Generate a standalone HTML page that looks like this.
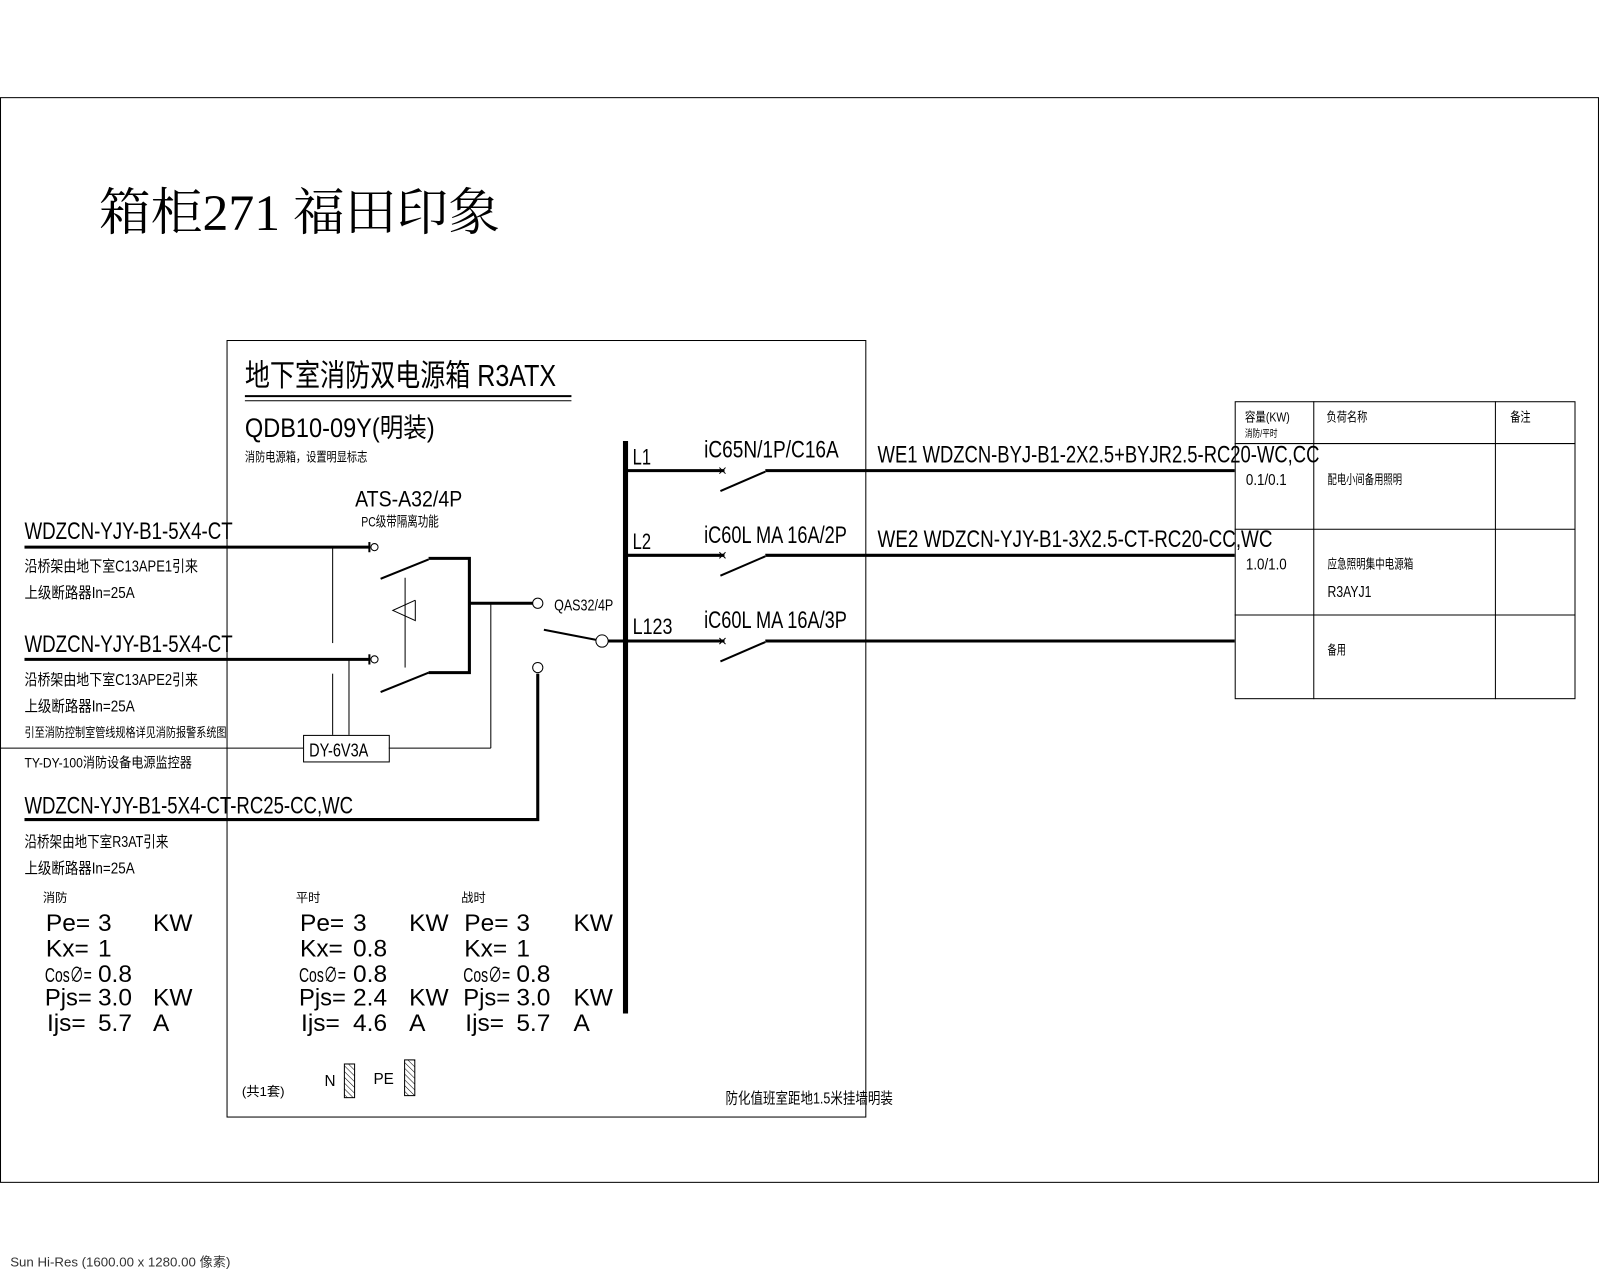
<!DOCTYPE html>
<html><head><meta charset="utf-8"><style>
html,body{margin:0;padding:0;background:#fff;}
svg{display:block;}
text{font-family:"Liberation Sans","Noto Sans CJK SC",sans-serif;fill:#000;}
text.s{font-family:"Liberation Serif","Noto Serif CJK SC",serif;}
</style></head><body>
<svg width="1600" height="1280" viewBox="0 0 1568 1254" xmlns="http://www.w3.org/2000/svg">
<defs>
<pattern id="h" width="4" height="4" patternUnits="userSpaceOnUse" patternTransform="rotate(-45)">
<line x1="0" y1="0" x2="0" y2="4" stroke="#000" stroke-width="1"/></pattern>
</defs>
<rect x="0" y="0" width="1568" height="1254" fill="#fff"/>
<rect x="0.5" y="95.5" width="1566" height="1063" fill="none" stroke="#000" stroke-width="1"/>
<text class="s" x="97" y="225" font-size="50" textLength="393" lengthAdjust="spacingAndGlyphs">箱柜271 福田印象</text>

<rect x="222.5" y="333.5" width="626" height="761" fill="none" stroke="#000" stroke-width="1"/>
<text x="240" y="378" font-size="30" textLength="305" lengthAdjust="spacingAndGlyphs">地下室消防双电源箱  R3ATX</text>
<line x1="240" y1="388" x2="560" y2="388" stroke="#000" stroke-width="2"/>
<line x1="240" y1="392.5" x2="560" y2="392.5" stroke="#000" stroke-width="1"/>
<text x="240" y="428" font-size="26" textLength="186" lengthAdjust="spacingAndGlyphs">QDB10-09Y(明装)</text>
<text x="240" y="452" font-size="13" textLength="120" lengthAdjust="spacingAndGlyphs">消防电源箱，设置明显标志</text>

<text x="348" y="496" font-size="22" textLength="105" lengthAdjust="spacingAndGlyphs">ATS-A32/4P</text>
<text x="354" y="516" font-size="14" textLength="76" lengthAdjust="spacingAndGlyphs">PC级带隔离功能</text>

<text x="24" y="528" font-size="24" textLength="204" lengthAdjust="spacingAndGlyphs">WDZCN-YJY-B1-5X4-CT</text>
<line x1="24" y1="536" x2="362" y2="536" stroke="#000" stroke-width="3"/>
<line x1="362" y1="531" x2="362" y2="541" stroke="#000" stroke-width="2"/>
<circle cx="367" cy="536" r="3.5" fill="#fff" stroke="#000"/>
<text x="24" y="560" font-size="15" textLength="170" lengthAdjust="spacingAndGlyphs">沿桥架由地下室C13APE1引来</text>
<text x="24" y="586" font-size="15" textLength="108" lengthAdjust="spacingAndGlyphs">上级断路器In=25A</text>

<text x="24" y="639" font-size="24" textLength="204" lengthAdjust="spacingAndGlyphs">WDZCN-YJY-B1-5X4-CT</text>
<line x1="24" y1="646" x2="362" y2="646" stroke="#000" stroke-width="3"/>
<line x1="362" y1="641" x2="362" y2="651" stroke="#000" stroke-width="2"/>
<circle cx="367" cy="646" r="3.5" fill="#fff" stroke="#000"/>
<text x="24" y="671" font-size="15" textLength="170" lengthAdjust="spacingAndGlyphs">沿桥架由地下室C13APE2引来</text>
<text x="24" y="697" font-size="15" textLength="108" lengthAdjust="spacingAndGlyphs">上级断路器In=25A</text>
<text x="24" y="722" font-size="13" textLength="198" lengthAdjust="spacingAndGlyphs">引至消防控制室管线规格详见消防报警系统图</text>
<text x="24" y="752" font-size="14" textLength="164" lengthAdjust="spacingAndGlyphs">TY-DY-100消防设备电源监控器</text>

<line x1="373" y1="567" x2="420" y2="548" stroke="#000" stroke-width="2"/>
<line x1="373" y1="678" x2="420" y2="659" stroke="#000" stroke-width="2"/>
<polyline points="420,547 460,547 460,659 420,659" fill="none" stroke="#000" stroke-width="3"/>
<line x1="397" y1="566" x2="397" y2="654" stroke="#000" stroke-width="1"/>
<polyline points="407,588 385,598 407,608 407,588" fill="none" stroke="#000" stroke-width="1"/>
<line x1="326" y1="536" x2="326" y2="630" stroke="#000" stroke-width="1"/>
<line x1="326" y1="660" x2="326" y2="720" stroke="#000" stroke-width="1"/>
<line x1="342" y1="646" x2="342" y2="720" stroke="#000" stroke-width="1"/>
<rect x="297.5" y="720.5" width="84" height="26" fill="#fff" stroke="#000"/>
<text x="303" y="741" font-size="18" textLength="58" lengthAdjust="spacingAndGlyphs">DY-6V3A</text>
<line x1="0" y1="733" x2="297" y2="733" stroke="#000" stroke-width="1"/>
<line x1="381" y1="733" x2="481" y2="733" stroke="#000" stroke-width="1"/>
<line x1="481" y1="591" x2="481" y2="733" stroke="#000" stroke-width="1"/>
<line x1="460" y1="591" x2="522" y2="591" stroke="#000" stroke-width="3"/>
<circle cx="527" cy="591" r="5" fill="#fff" stroke="#000"/>
<text x="543" y="598" font-size="15" textLength="58" lengthAdjust="spacingAndGlyphs">QAS32/4P</text>
<line x1="533" y1="617" x2="585" y2="627" stroke="#000" stroke-width="2"/>
<circle cx="590" cy="628" r="6" fill="#fff" stroke="#000"/>
<line x1="596" y1="628" x2="613" y2="628" stroke="#000" stroke-width="3"/>
<circle cx="527" cy="654" r="5" fill="#fff" stroke="#000"/>
<polyline points="527,660 527,803 24,803" fill="none" stroke="#000" stroke-width="3"/>
<text x="24" y="797" font-size="24" textLength="322" lengthAdjust="spacingAndGlyphs">WDZCN-YJY-B1-5X4-CT-RC25-CC,WC</text>
<text x="24" y="830" font-size="15" textLength="141" lengthAdjust="spacingAndGlyphs">沿桥架由地下室R3AT引来</text>
<text x="24" y="856" font-size="15" textLength="108" lengthAdjust="spacingAndGlyphs">上级断路器In=25A</text>

<line x1="613" y1="432" x2="613" y2="993" stroke="#000" stroke-width="5"/>
<text x="620" y="455" font-size="22" textLength="18" lengthAdjust="spacingAndGlyphs">L1</text>
<text x="620" y="538" font-size="22" textLength="18" lengthAdjust="spacingAndGlyphs">L2</text>
<text x="620" y="621" font-size="22" textLength="39" lengthAdjust="spacingAndGlyphs">L123</text>
<text x="690" y="448" font-size="24" textLength="132" lengthAdjust="spacingAndGlyphs">iC65N/1P/C16A</text>
<text x="690" y="532" font-size="24" textLength="140" lengthAdjust="spacingAndGlyphs">iC60L MA 16A/2P</text>
<text x="690" y="615" font-size="24" textLength="140" lengthAdjust="spacingAndGlyphs">iC60L MA 16A/3P</text>
<g stroke="#000">
<line x1="613" y1="461" x2="710" y2="461" stroke-width="3"/>
<line x1="706" y1="481" x2="750" y2="462" stroke-width="2"/>
<line x1="750" y1="461" x2="1210" y2="461" stroke-width="3"/>
<path d="M705,458 l6,6 M711,458 l-6,6" stroke-width="1"/>
<line x1="613" y1="544" x2="710" y2="544" stroke-width="3"/>
<line x1="706" y1="564" x2="750" y2="545" stroke-width="2"/>
<line x1="750" y1="544" x2="1210" y2="544" stroke-width="3"/>
<path d="M705,541 l6,6 M711,541 l-6,6" stroke-width="1"/>
<line x1="613" y1="628" x2="710" y2="628" stroke-width="3"/>
<line x1="706" y1="648" x2="750" y2="629" stroke-width="2"/>
<line x1="750" y1="628" x2="1210" y2="628" stroke-width="3"/>
<path d="M705,625 l6,6 M711,625 l-6,6" stroke-width="1"/>
</g>
<text x="860" y="453" font-size="24" textLength="433" lengthAdjust="spacingAndGlyphs">WE1  WDZCN-BYJ-B1-2X2.5+BYJR2.5-RC20-WC,CC</text>
<text x="860" y="536" font-size="24" textLength="387" lengthAdjust="spacingAndGlyphs">WE2  WDZCN-YJY-B1-3X2.5-CT-RC20-CC,WC</text>

<g stroke="#000" stroke-width="1" fill="none">
<rect x="1210.5" y="393.5" width="333" height="291"/>
<line x1="1287.5" y1="393" x2="1287.5" y2="685"/>
<line x1="1465.5" y1="393" x2="1465.5" y2="685"/>
<line x1="1210" y1="434.5" x2="1544" y2="434.5"/>
<line x1="1210" y1="518.5" x2="1544" y2="518.5"/>
<line x1="1210" y1="602.5" x2="1544" y2="602.5"/>
</g>
<text x="1220" y="413" font-size="13" textLength="44" lengthAdjust="spacingAndGlyphs">容量(KW)</text>
<text x="1220" y="428" font-size="10" textLength="32" lengthAdjust="spacingAndGlyphs">消防/平时</text>
<text x="1300" y="413" font-size="13" textLength="40" lengthAdjust="spacingAndGlyphs">负荷名称</text>
<text x="1480" y="413" font-size="13" textLength="20" lengthAdjust="spacingAndGlyphs">备注</text>
<text x="1221" y="475" font-size="15" textLength="40" lengthAdjust="spacingAndGlyphs">0.1/0.1</text>
<text x="1301" y="474" font-size="13" textLength="73" lengthAdjust="spacingAndGlyphs">配电小间备用照明</text>
<text x="1221" y="558" font-size="15" textLength="40" lengthAdjust="spacingAndGlyphs">1.0/1.0</text>
<text x="1301" y="557" font-size="13" textLength="84" lengthAdjust="spacingAndGlyphs">应急照明集中电源箱</text>
<text x="1301" y="585" font-size="15" textLength="43" lengthAdjust="spacingAndGlyphs">R3AYJ1</text>
<text x="1301" y="641" font-size="13" textLength="18" lengthAdjust="spacingAndGlyphs">备用</text>

<g font-size="24">
<text x="42" y="884" font-size="12">消防</text>
<text x="45" y="912">Pe=</text><text x="96" y="912">3</text><text x="150" y="912">KW</text>
<text x="45" y="937">Kx=</text><text x="96" y="937">1</text>
<text x="44" y="962" font-size="20" textLength="46" lengthAdjust="spacingAndGlyphs">Cos∅=</text><text x="96" y="962">0.8</text>
<text x="44" y="985" textLength="46" lengthAdjust="spacingAndGlyphs">Pjs=</text><text x="96" y="985">3.0</text><text x="150" y="985">KW</text>
<text x="46" y="1010">Ijs=</text><text x="96" y="1010">5.7</text><text x="150" y="1010">A</text>

<text x="290" y="884" font-size="12">平时</text>
<text x="294" y="912">Pe=</text><text x="346" y="912">3</text><text x="401" y="912">KW</text>
<text x="294" y="937">Kx=</text><text x="346" y="937">0.8</text>
<text x="293" y="962" font-size="20" textLength="46" lengthAdjust="spacingAndGlyphs">Cos∅=</text><text x="346" y="962">0.8</text>
<text x="293" y="985" textLength="46" lengthAdjust="spacingAndGlyphs">Pjs=</text><text x="346" y="985">2.4</text><text x="401" y="985">KW</text>
<text x="295" y="1010">Ijs=</text><text x="346" y="1010">4.6</text><text x="401" y="1010">A</text>

<text x="452" y="884" font-size="12">战时</text>
<text x="455" y="912">Pe=</text><text x="506" y="912">3</text><text x="562" y="912">KW</text>
<text x="455" y="937">Kx=</text><text x="506" y="937">1</text>
<text x="454" y="962" font-size="20" textLength="46" lengthAdjust="spacingAndGlyphs">Cos∅=</text><text x="506" y="962">0.8</text>
<text x="454" y="985" textLength="46" lengthAdjust="spacingAndGlyphs">Pjs=</text><text x="506" y="985">3.0</text><text x="562" y="985">KW</text>
<text x="456" y="1010">Ijs=</text><text x="506" y="1010">5.7</text><text x="562" y="1010">A</text>
</g>

<text x="237" y="1074" font-size="13">(共1套)</text>
<text x="318" y="1064" font-size="15">N</text>
<rect x="337.5" y="1042.5" width="10" height="33" fill="url(#h)" stroke="#000"/>
<text x="366" y="1062" font-size="15">PE</text>
<rect x="396.5" y="1038.5" width="10" height="35" fill="url(#h)" stroke="#000"/>
<text x="711" y="1081" font-size="15" textLength="164" lengthAdjust="spacingAndGlyphs">防化值班室距地1.5米挂墙明装</text>

<text x="10" y="1241" font-size="13" style="fill:#333">Sun Hi-Res (1600.00 x 1280.00 像素)</text>
</svg>
</body></html>
